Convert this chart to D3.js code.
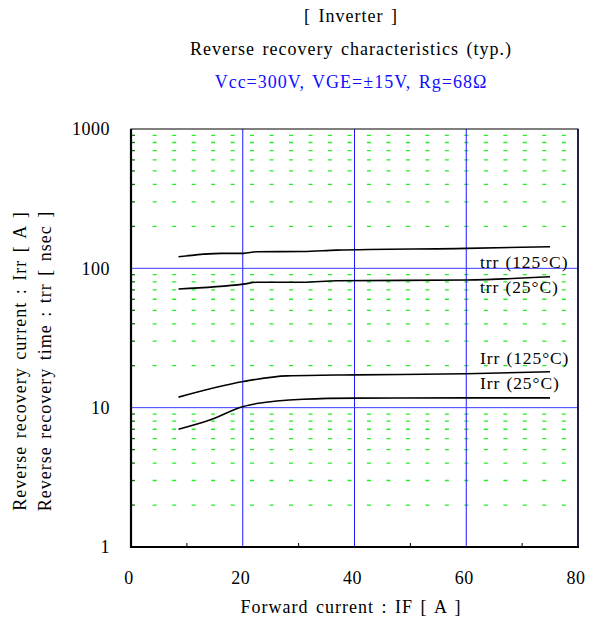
<!DOCTYPE html>
<html><head><meta charset="utf-8">
<script src="https://cdn.jsdelivr.net/npm/d3@7"></script>
<style>body{margin:0;background:#fff}text{font-family:"Liberation Serif","Times New Roman",serif}</style>
</head><body><svg id="c" width="591" height="623"></svg>
<script>
const xTicks=[0,20,40,60,80];
const yTicks=[1,10,100,1000];
const trr125_IF=[8.5,16.2,20.1,22.5,30.8,36.8,60,75];
const trr125=[121,128,128,131.5,132,135,139,143];
const trr25_IF=[8.5,20.1,22.5,30.8,36.8,60,75];
const trr25=[71,77,79.4,79.5,81.5,82.5,87];
const irr125_IF=[8.5,20.1,27.9,40.2,60,75];
const irr125=[11.9,15.4,16.9,17.2,17.5,18.1];
const irr25_IF=[8.5,14.1,20.1,22.5,30.8,40.2,60,75];
const irr25=[7.0,8.15,10.2,10.7,11.5,11.7,11.75,11.75];
const seriesNames=["trr (125°C)","trr (25°C)","Irr (125°C)","Irr (25°C)"];

const svg=d3.select("#c");
const L=131,R=578,T=129,B=547;
const x=d3.scaleLinear().domain([0,80]).range([L,R]);
const y=d3.scaleLog().domain([1,1000]).range([B,T]);

// minor grid (green dashes)
const minors=[];
[1,10,100].forEach(d=>{for(let k=2;k<=9;k++)minors.push(d*k);});
svg.append("g").selectAll("line").data(minors).join("line")
  .attr("x1",152.7).attr("x2",R).attr("y1",d=>y(d)).attr("y2",d=>y(d))
  .attr("stroke","#22ee22").attr("stroke-width",1.3).attr("stroke-dasharray","4 15.48");
svg.append("g").selectAll("line").data(minors).join("line")
  .attr("x1",L).attr("x2",L+4).attr("y1",d=>y(d)).attr("y2",d=>y(d))
  .attr("stroke","#117711").attr("stroke-width",1.3);
// minor x ticks
svg.append("g").selectAll("line").data([10,30,50,70]).join("line")
  .attr("x1",d=>x(d)).attr("x2",d=>x(d)).attr("y1",B).attr("y2",B-4)
  .attr("stroke","#000");
// major grid blue
svg.append("g").selectAll("line").data([20,40,60]).join("line")
  .attr("x1",d=>x(d)).attr("x2",d=>x(d)).attr("y1",T).attr("y2",B)
  .attr("stroke","#1a1aff").attr("stroke-width",1);
svg.append("g").selectAll("line").data([10,100]).join("line")
  .attr("x1",L).attr("x2",R).attr("y1",d=>y(d)).attr("y2",d=>y(d))
  .attr("stroke","#3a3aff").attr("stroke-width",1);
// frame
svg.append("rect").attr("x",L).attr("y",T).attr("width",R-L).attr("height",B-T)
  .attr("fill","none").attr("stroke","#000").attr("stroke-width",1);
svg.append("line").attr("x1",R).attr("x2",R).attr("y1",T).attr("y2",B).attr("stroke","#000033").attr("stroke-width",1.5);
svg.append("line").attr("x1",L).attr("x2",L).attr("y1",T).attr("y2",B+1).attr("stroke","#000").attr("stroke-width",2.2);
svg.append("line").attr("x1",L).attr("x2",R+1).attr("y1",B).attr("y2",B).attr("stroke","#000").attr("stroke-width",2.2);

// curves
const line=d3.line().x(d=>x(d[0])).y(d=>y(d[1])).curve(d3.curveMonotoneX);
const series=[[trr125_IF,trr125],[trr25_IF,trr25],[irr125_IF,irr125],[irr25_IF,irr25]];
series.forEach(([xs,ys])=>{
  svg.append("path").datum(xs.map((v,i)=>[v,ys[i]])).attr("d",line)
    .attr("fill","none").attr("stroke","#000").attr("stroke-width",1.6);
});
// labels
const labY=[262,287,358,383];
seriesNames.forEach((n,i)=>{
  svg.append("text").attr("x",480).attr("y",labY[i]).attr("dy","0.35em")
    .attr("font-size",17.5).attr("letter-spacing",0.9).attr("word-spacing",1).text(n);
});

// tick labels
svg.append("g").selectAll("text").data(xTicks).join("text")
  .attr("x",d=>x(d)-2).attr("y",578).attr("dy","0.35em").attr("text-anchor","middle")
  .attr("font-size",18).attr("letter-spacing",0.5).text(d=>d);
svg.append("g").selectAll("text").data(yTicks).join("text")
  .attr("x",110).attr("y",d=>y(d)).attr("dy","0.35em").attr("text-anchor","end")
  .attr("font-size",18).attr("letter-spacing",0.5).text(d=>d);

// titles
function txt(xp,yp,s,fill,rot){
  const t=svg.append("text").attr("dy","0.35em").attr("text-anchor","middle")
    .attr("font-size",18).attr("letter-spacing",1).attr("word-spacing",2).attr("fill",fill||"#000").text(s);
  t.attr("transform",`translate(${xp},${yp})`+(rot?" rotate(-90)":""));
}
txt(351,16,"[ Inverter ]");
txt(351,49,"Reverse recovery characteristics  (typ.)");
txt(351,82,"Vcc=300V, VGE=±15V, Rg=68Ω","#1010ff");
txt(351,607,"Forward current : IF [ A ]");
txt(20,361,"Reverse recovery current : Irr [ A ]","#000",true);
txt(45,361,"Reverse recovery time : trr [ nsec ]","#000",true);
</script></body></html>
